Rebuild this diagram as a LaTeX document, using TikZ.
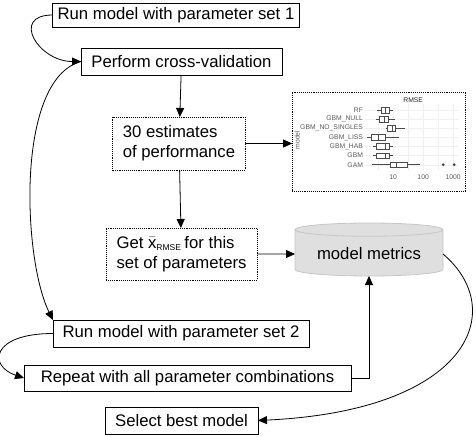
\documentclass[tikz,border=0pt]{standalone}
\usepackage{fontspec}
\setmainfont{Liberation Sans}
\usetikzlibrary{arrows.meta,positioning,shapes.geometric}

\begin{document}
\begin{tikzpicture}[
    x=1pt, y=1pt,
    font=\fontsize{16.7}{20}\selectfont,
    stepbox/.style={rectangle, draw, line width=0.9pt, minimum height=26pt, inner xsep=5pt, inner ysep=0pt, outer sep=0pt},
    dotbox/.style={rectangle, draw, densely dotted, line width=0.9pt, align=left, inner xsep=10pt, inner ysep=0pt, outer sep=0pt, minimum height=52pt},
    store/.style={cylinder, shape border rotate=90, aspect=0.12, draw=gray!45, line width=0.8pt, fill=gray!25, outer sep=0pt, minimum width=148pt, minimum height=53pt},
    arrow/.style={-{Triangle[length=9pt,width=8pt]}, line width=0.8pt},
    plotlab/.style={font=\fontsize{6.8}{8}\selectfont, text=black!65, inner sep=0pt},
    whisker/.style={black!70, line width=0.5pt}
]
  \useasboundingbox (0,0) rectangle (476,-436);

  % Left column of steps
  \node[stepbox, minimum width=246pt, minimum height=24pt] (run1) at (176,-15) {Run model with parameter set 1};
  \node[stepbox, minimum width=201pt, minimum height=27pt, below=21pt of run1, xshift=5.5pt] (cv) {Perform cross-validation};
  \node[dotbox, minimum width=132pt, minimum height=53pt, below=42pt of cv, xshift=-2.5pt] (est) {30 estimates\\of performance};
  \node[dotbox, minimum width=151pt, below=58pt of est, xshift=2.5pt] (get)
    {Get $\bar{\mbox{x}}_{\mbox{\fontsize{8.5}{9}\selectfont RMSE}}$\kern3pt for this\\set of parameters};
  \node[stepbox, minimum width=256pt, minimum height=27pt, below=40pt of get, xshift=-0.5pt] (run2) {Run model with parameter set 2};
  \node[stepbox, minimum width=327pt, below=18pt of run2, xshift=6.5pt] (rep) {Repeat with all parameter combinations};
  \node[stepbox, minimum width=153pt, minimum height=27pt, below=16pt of rep, xshift=-6pt] (best) {Select best model};

  % Right column
  \node[store, right=38pt of get] (metrics) {model metrics};
  \node[draw, densely dotted, line width=0.9pt, outer sep=0pt, minimum width=173pt, minimum height=99pt, right=47pt of est, yshift=2pt] (plot) {};

  % Boxplot of RMSE per model
  \begin{scope}[shift={(plot.north west)}, y=-1pt]
    \foreach \gx in {86,101,116,131,146,161}
      \draw[gray!12, line width=0.4pt] (\gx,12) -- (\gx,78);
    \node[plotlab, text=black!85] at (121,8) {RMSE};
    \node[plotlab, rotate=90] at (5,48) {model};
    \foreach \lab/\wlo/\qlo/\qmed/\qhi/\whi [count=\i] in
      {RF/85/89/93/97/101, GBM\_NULL/84/87/92/96/103, GBM\_NO\_SINGLES/94/95/100/103/113,
       GBM\_LISS/75/79/86/93/107, GBM\_HAB/81/84/93/97/101, GBM/81/84/93/97/101, GAM/80/98/104/115/128}
    {
      \pgfmathsetmacro\ry{9+9.1*\i}
      \draw[gray!12, line width=0.4pt] (73,\ry) -- (166,\ry);
      \node[plotlab, anchor=east] at (71,\ry) {\lab};
      \draw[whisker] (\wlo,\ry) -- (\qlo,\ry) (\qhi,\ry) -- (\whi,\ry);
      \draw[whisker, fill=white] (\qlo,\ry-2.8) rectangle (\qhi,\ry+2.8);
      \draw[whisker, line width=0.8pt] (\qmed,\ry-2.8) -- (\qmed,\ry+2.8);
    }
    \fill[black!80] (151,72.7) circle (1.4pt) (162,72.7) circle (1.4pt);
    \node[plotlab] at (101,85) {10};
    \node[plotlab] at (131,85) {100};
    \node[plotlab] at (161,85) {1000};
  \end{scope}

  % Connectors
  \draw[arrow] (run1.west) to[out=180, in=180, looseness=2] (cv.west);
  \draw[arrow] (cv.west) .. controls +(-66,-18) and +(-30,60) .. (run2.north west);
  \draw[arrow] (cv) -- (est);
  \draw[arrow] (est.east) -- (est.east -| plot.west);
  \draw[arrow] (est) -- (get);
  \draw[arrow] (get) -- (metrics);
  \draw[arrow] (run2.west) .. controls +(-62,0) and +(-36,12) .. (rep.west);
  \draw[arrow] (rep.east) -| (metrics.south);
  \draw[arrow] (metrics.east) .. controls +(66,-56) and +(212,10) .. (best.east);
\end{tikzpicture}
\end{document}
